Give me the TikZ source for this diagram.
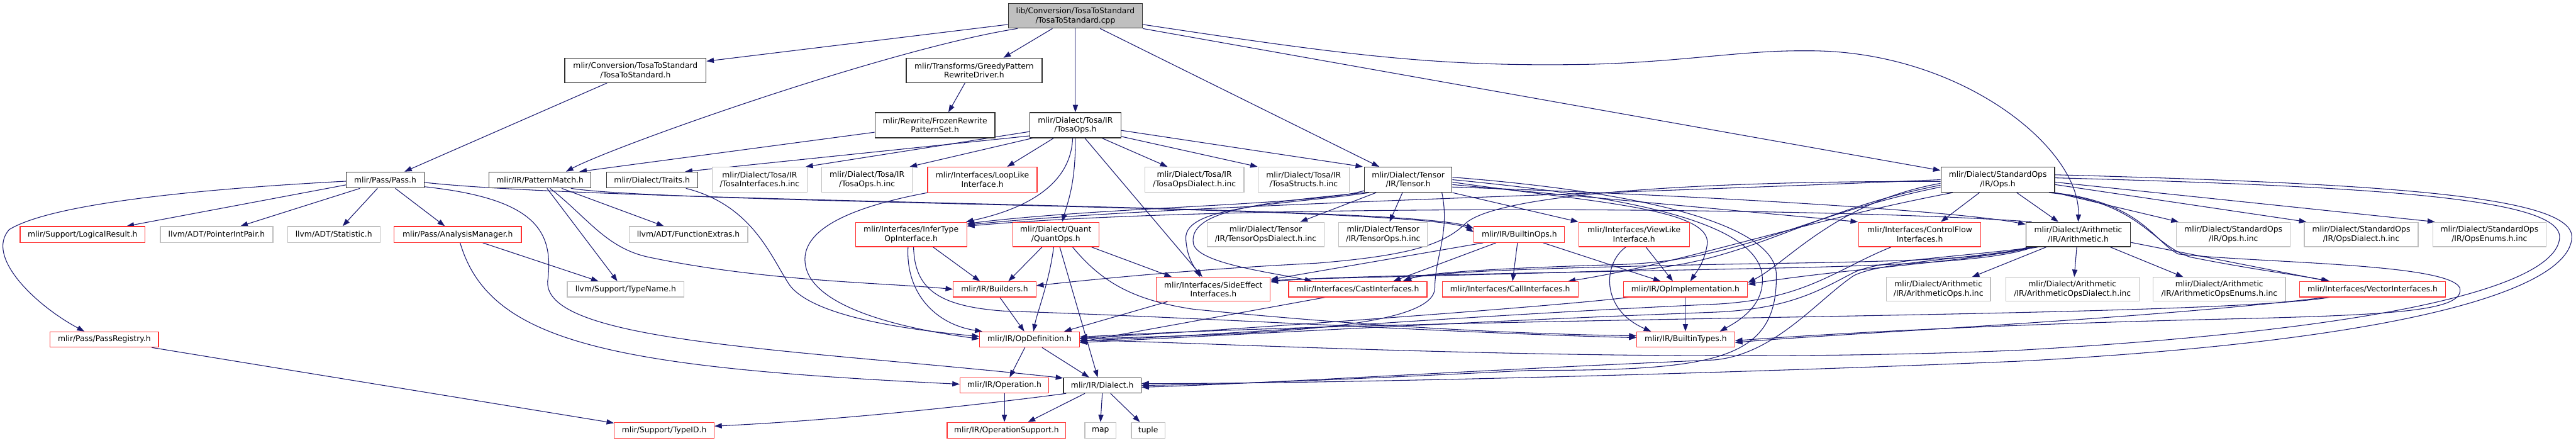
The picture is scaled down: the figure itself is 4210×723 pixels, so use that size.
\documentclass[tikz,border=0pt]{standalone}
\usepackage{fontspec}
\newfontfamily\dvs{DejaVu Sans}
\usetikzlibrary{arrows.meta}
\definecolor{edgecol}{HTML}{191970}
\definecolor{redb}{HTML}{FF3030}
\definecolor{grayb}{HTML}{BFBFBF}
\definecolor{blkb}{HTML}{303030}
\pgfdeclarelayer{bg}
\pgfsetlayers{bg,main}
\begin{document}
\begin{tikzpicture}[x=1pt,y=-1pt,
  nd/.style={draw, line width=1.3pt, inner sep=0pt, align=center, fill=white, text=black, font=\dvs\fontsize{12.7}{15}\selectfont},
  bk/.style={nd, draw=blkb},
  rd/.style={nd, draw=redb},
  gy/.style={nd, draw=grayb},
  e/.style={draw=edgecol, line width=1.1pt, -{Triangle[length=12pt,width=8.5pt]}}]
\useasboundingbox (0,0) rectangle (4210,723);
% row 1-3
\node[bk, fill=grayb, minimum width=219pt, minimum height=40pt] (top) at (1757.5,26) {lib/Conversion/TosaToStandard\\/TosaToStandard.cpp};
\node[bk, minimum width=231pt, minimum height=40pt] (convh) at (1038.5,115) {mlir/Conversion/TosaToStandard\\/TosaToStandard.h};
\node[bk, minimum width=222pt, minimum height=40pt] (greedy) at (1592,115) {mlir/Transforms/GreedyPattern\\RewriteDriver.h};
\node[bk, minimum width=196pt, minimum height=41pt] (frozen) at (1528,204.5) {mlir/Rewrite/FrozenRewrite\\PatternSet.h};
\node[bk, minimum width=149pt, minimum height=41pt] (tosaops) at (1757.5,204.5) {mlir/Dialect/Tosa/IR\\/TosaOps.h};
% row 4
\node[bk, minimum width=127pt, minimum height=26pt] (passh) at (629.5,294) {mlir/Pass/Pass.h};
\node[bk, minimum width=167pt, minimum height=26pt] (patmatch) at (882.5,294) {mlir/IR/PatternMatch.h};
\node[bk, minimum width=149pt, minimum height=26pt] (traits) at (1065.5,294) {mlir/Dialect/Traits.h};
\node[gy, minimum width=155pt, minimum height=41pt] (tosaif) at (1241.5,293.5) {mlir/Dialect/Tosa/IR\\/TosaInterfaces.h.inc};
\node[gy, minimum width=148pt, minimum height=41pt] (tosaopsinc) at (1417,293.5) {mlir/Dialect/Tosa/IR\\/TosaOps.h.inc};
\node[rd, minimum width=179pt, minimum height=41pt] (looplike) at (1605.5,293.5) {mlir/Interfaces/LoopLike\\Interface.h};
\node[gy, minimum width=162pt, minimum height=41pt] (tosadial) at (1952,293.5) {mlir/Dialect/Tosa/IR\\/TosaOpsDialect.h.inc};
\node[gy, minimum width=149pt, minimum height=41pt] (tosastruct) at (2130.5,293.5) {mlir/Dialect/Tosa/IR\\/TosaStructs.h.inc};
\node[bk, minimum width=143pt, minimum height=41pt] (tensor) at (2301.5,293.5) {mlir/Dialect/Tensor\\/IR/Tensor.h};
\node[bk, minimum width=186pt, minimum height=41pt] (stdops) at (3265,293.5) {mlir/Dialect/StandardOps\\/IR/Ops.h};
% row 5
\node[rd, minimum width=204pt, minimum height=26pt] (logical) at (135,383) {mlir/Support/LogicalResult.h};
\node[gy, minimum width=184pt, minimum height=26pt] (ptrint) at (354,383) {llvm/ADT/PointerIntPair.h};
\node[gy, minimum width=151pt, minimum height=26pt] (statistic) at (545.5,383) {llvm/ADT/Statistic.h};
\node[rd, minimum width=208pt, minimum height=26pt] (analysis) at (748,383) {mlir/Pass/AnalysisManager.h};
\node[gy, minimum width=194pt, minimum height=26pt] (funcext) at (1125,383) {llvm/ADT/FunctionExtras.h};
\node[rd, minimum width=182pt, minimum height=40pt] (infertype) at (1489,383) {mlir/Interfaces/InferType\\OpInterface.h};
\node[rd, minimum width=141pt, minimum height=40pt] (quantops) at (1725.5,383) {mlir/Dialect/Quant\\/QuantOps.h};
\node[gy, minimum width=191pt, minimum height=40pt] (tensordial) at (2068.5,383) {mlir/Dialect/Tensor\\/IR/TensorOpsDialect.h.inc};
\node[gy, minimum width=145pt, minimum height=40pt] (tensoropsinc) at (2260.5,383) {mlir/Dialect/Tensor\\/IR/TensorOps.h.inc};
\node[rd, minimum width=148pt, minimum height=26pt] (builtinops) at (2483,383) {mlir/IR/BuiltinOps.h};
\node[rd, minimum width=181pt, minimum height=40pt] (viewlike) at (2670.5,383) {mlir/Interfaces/ViewLike\\Interface.h};
\node[rd, minimum width=199pt, minimum height=40pt] (controlflow) at (3137.5,383) {mlir/Interfaces/ControlFlow\\Interfaces.h};
\node[bk, minimum width=171pt, minimum height=40pt] (arith) at (3396.5,383) {mlir/Dialect/Arithmetic\\/IR/Arithmetic.h};
\node[gy, minimum width=186pt, minimum height=40pt] (stdopsinc) at (3650,383) {mlir/Dialect/StandardOps\\/IR/Ops.h.inc};
\node[gy, minimum width=186pt, minimum height=40pt] (stdopsdial) at (3859,383) {mlir/Dialect/StandardOps\\/IR/OpsDialect.h.inc};
\node[gy, minimum width=185pt, minimum height=40pt] (stdopsenums) at (4068.5,383) {mlir/Dialect/StandardOps\\/IR/OpsEnums.h.inc};
% row 6
\node[gy, minimum width=191pt, minimum height=25pt] (typename) at (1022.5,472.5) {llvm/Support/TypeName.h};
\node[rd, minimum width=135pt, minimum height=25pt] (builders) at (1625.5,472.5) {mlir/IR/Builders.h};
\node[rd, minimum width=186pt, minimum height=39pt] (sideeffect) at (1983,472.5) {mlir/Interfaces/SideEffect\\Interfaces.h};
\node[rd, minimum width=226pt, minimum height=25pt] (castif) at (2219,472.5) {mlir/Interfaces/CastInterfaces.h};
\node[rd, minimum width=222pt, minimum height=25pt] (callif) at (2468,472.5) {mlir/Interfaces/CallInterfaces.h};
\node[rd, minimum width=203pt, minimum height=25pt] (opimpl) at (2754.5,472.5) {mlir/IR/OpImplementation.h};
\node[gy, minimum width=170pt, minimum height=39pt] (arithopsinc) at (3168,472.5) {mlir/Dialect/Arithmetic\\/IR/ArithmeticOps.h.inc};
\node[gy, minimum width=218pt, minimum height=39pt] (arithdial) at (3387,472.5) {mlir/Dialect/Arithmetic\\/IR/ArithmeticOpsDialect.h.inc};
\node[gy, minimum width=216pt, minimum height=39pt] (arithenums) at (3627,472.5) {mlir/Dialect/Arithmetic\\/IR/ArithmeticOpsEnums.h.inc};
\node[rd, minimum width=239pt, minimum height=25pt] (vectorif) at (3877.5,472.5) {mlir/Interfaces/VectorInterfaces.h};
% row 7-9
\node[rd, minimum width=177pt, minimum height=25pt] (passreg) at (170.5,554.5) {mlir/Pass/PassRegistry.h};
\node[rd, minimum width=163pt, minimum height=25pt] (opdef) at (1682.5,554.5) {mlir/IR/OpDefinition.h};
\node[rd, minimum width=160pt, minimum height=25pt] (builtintypes) at (2755,554.5) {mlir/IR/BuiltinTypes.h};
\node[rd, minimum width=145pt, minimum height=25pt] (operation) at (1641.5,629.5) {mlir/IR/Operation.h};
\node[bk, minimum width=127pt, minimum height=25pt] (dialect) at (1801.5,629.5) {mlir/IR/Dialect.h};
\node[rd, minimum width=163pt, minimum height=26pt] (typeid) at (1085.5,703) {mlir/Support/TypeID.h};
\node[rd, minimum width=194pt, minimum height=26pt] (opsupport) at (1645,703) {mlir/IR/OperationSupport.h};
\node[gy, minimum width=51pt, minimum height=26pt] (map) at (1798.5,703) {map};
\node[gy, minimum width=55pt, minimum height=26pt] (tuple) at (1876.5,703) {tuple};

\begin{pgfonlayer}{bg}
% top
\draw[e] ([yshift=-14pt]top.west) -- ([yshift=15pt]convh.east);
\draw[e] ([xshift=-94.5pt]top.south) .. controls (1450,80) and (1000,240) .. ([xshift=42.5pt]patmatch.north);
\draw[e] ([xshift=-37.5pt]top.south) -- ([xshift=48pt]greedy.north);
\draw[e] (top.south) -- (tosaops.north);
\draw[e] ([xshift=40.5pt]top.south) -- ([xshift=-47.5pt]tensor.north);
\draw[e] (top.south east) -- ([yshift=-6pt]stdops.north west);
\draw[e] ([yshift=-14pt]top.east) .. controls (2200,90) and (2350,110) .. (2600,105) .. controls (2750,101) and (2850,82) .. (2950,83) .. controls (3200,80) and (3400,240) .. (arith.north);
% upper
\draw[e] ([xshift=-46.5pt]convh.south) -- ([xshift=31.5pt]passh.north);
\draw[e] ([xshift=-15pt]greedy.south) -- ([xshift=22pt]frozen.north);
\draw[e] ([yshift=-11.5pt]frozen.west) -- ([xshift=64.5pt]patmatch.north);
% tosaops
\draw[e] ([yshift=-10.5pt]tosaops.west) -- ([xshift=-3pt]tosaif.north east);
\draw[e] ([yshift=-17.5pt]tosaops.west) -- ([xshift=54pt]traits.north);
\draw[e] ([xshift=5pt]tosaops.south west) -- ([xshift=-5pt]tosaopsinc.north east);
\draw[e] ([xshift=-35.5pt]tosaops.south) -- ([xshift=40.5pt]looplike.north);
\draw[e] ([xshift=-4.5pt]tosaops.south) .. controls (1750,310) and (1660,345) .. ([xshift=-2pt]infertype.north east);
\draw[e] (tosaops.south) .. controls (1758,300) and (1745,330) .. ([xshift=10.5pt]quantops.north);
\draw[e] ([xshift=15.5pt]tosaops.south) -- ([xshift=-18pt]sideeffect.north);
\draw[e] ([xshift=43.5pt]tosaops.south) -- ([xshift=-44pt]tosadial.north);
\draw[e] ([yshift=-18.5pt]tosaops.east) -- (tosastruct.north west);
\draw[e] ([yshift=-8.5pt]tosaops.east) -- ([xshift=-2pt]tensor.north west);
% pass
\draw[e] ([yshift=-8pt]passh.west) -- ([xshift=72pt]logical.north);
\draw[e] ([xshift=23pt]passh.south west) -- ([xshift=39pt]ptrint.north);
\draw[e] ([xshift=-12.5pt]passh.south) -- ([xshift=14.5pt]statistic.north);
\draw[e] ([xshift=16.5pt]passh.south) -- ([xshift=-21pt]analysis.north);
\draw[e] ([yshift=-2pt]passh.west) .. controls (300,310) and (80,335) .. (15,375) .. controls (-25,420) and (60,500) .. ([xshift=-32.5pt]passreg.north);
\draw[e] ([yshift=-11pt]passh.east) .. controls (880,325) and (905,380) .. (895,460) .. controls (890,560) and (1300,570) .. ([yshift=12pt]dialect.west);
\draw[e] ([yshift=-4pt]passh.east) .. controls (1000,332) and (2300,335) .. ([yshift=10pt]builtinops.west);
% patternmatch
\draw[e] ([xshift=50.5pt]patmatch.south) .. controls (1100,334) and (2340,336) .. ([yshift=4pt]builtinops.west);
\draw[e] ([xshift=35.5pt]patmatch.south) -- ([xshift=-40pt]funcext.north);
\draw[e] ([xshift=11.5pt]patmatch.south) -- ([xshift=-13.5pt]typename.north);
\draw[e] ([xshift=16.5pt]patmatch.south) .. controls (960,355) and (990,405) .. (1060,420) .. controls (1250,460) and (1450,462) .. (builders.west);
% analysis
\draw[e] ([xshift=41pt]analysis.south) -- ([xshift=-44.5pt]typename.north);
\draw[e] ([xshift=4pt]analysis.south) .. controls (800,560) and (1000,600) .. ([yshift=2pt]operation.west);
% traits, looplike, infertype
\draw[e] ([xshift=55.5pt]traits.south) .. controls (1230,335) and (1260,420) .. (1290,465) .. controls (1330,520) and (1500,540) .. ([yshift=5pt]opdef.west);
\draw[e] ([xshift=1pt]looplike.south west) .. controls (1380,340) and (1300,380) .. (1318,440) .. controls (1340,510) and (1500,540) .. ([yshift=1pt]opdef.west);
\draw[e] ([xshift=-5pt]infertype.south) .. controls (1480,480) and (1530,530) .. ([xshift=5pt]opdef.north west);
\draw[e] ([xshift=36pt]infertype.south) -- ([xshift=-24pt]builders.north);
\draw[e] ([xshift=4pt]infertype.south) .. controls (1495,470) and (1530,500) .. (1640,508) .. controls (2000,520) and (2400,545) .. ([yshift=3pt]builtintypes.west);
% quantops
\draw[e] ([xshift=-22.5pt]quantops.south) -- ([xshift=22.5pt]builders.north);
\draw[e] ([xshift=-3.5pt]quantops.south) .. controls (1715,460) and (1695,510) .. ([xshift=6.5pt]opdef.north);
\draw[e] ([xshift=6.5pt]quantops.south) -- ([xshift=-7.5pt]dialect.north);
\draw[e] ([xshift=27.5pt]quantops.south) .. controls (1800,460) and (1850,490) .. (1950,505) .. controls (2200,530) and (2450,545) .. ([yshift=6pt]builtintypes.west);
\draw[e] ([xshift=58.5pt]quantops.south) -- ([xshift=-68pt]sideeffect.north);
% lower core
\draw[e] ([xshift=-75pt]sideeffect.south) -- ([xshift=56.5pt]opdef.north);
\draw[e] ([xshift=8.5pt]builders.south) -- ([xshift=-8.5pt]opdef.north);
\draw[e] ([xshift=-7.5pt]opdef.south) -- ([xshift=8.5pt]operation.north);
\draw[e] ([xshift=20.5pt]opdef.south) -- ([xshift=-21.5pt]dialect.north);
\draw[e] (operation.south) -- (operation.south |- opsupport.north);
\draw[e] ([xshift=-28.5pt]dialect.south) -- ([xshift=35pt]opsupport.north);
\draw[e] (dialect.south) -- (map.north);
\draw[e] ([xshift=13.5pt]dialect.south) -- ([xshift=-13.5pt]tuple.north);
\draw[e] ([xshift=5pt]dialect.south west) .. controls (1650,655) and (1400,685) .. ([yshift=7pt]typeid.east);
\draw[e] ([xshift=77.5pt]passreg.south) -- ([yshift=12pt]typeid.west);
% tensor
\draw[e] ([xshift=-52.5pt]tensor.south) -- ([xshift=56.5pt]tensordial.north);
\draw[e] ([xshift=-9.5pt]tensor.south) -- ([xshift=10.5pt]tensoropsinc.north);
\draw[e] (tensor.south east) -- (viewlike.north west);
\draw[e] ([yshift=-8pt]tensor.east) -- ([xshift=-1pt]controlflow.north west);
\draw[e] ([yshift=-12pt]tensor.east) .. controls (2800,320) and (3200,345) .. ([yshift=-4pt]arith.north west);
\draw[e] ([yshift=-18pt]tensor.west) .. controls (2150,335) and (1800,338) .. ([yshift=-3pt]infertype.north east);
\draw[e] ([xshift=8pt]tensor.south west) .. controls (2100,335) and (1935,335) .. (1938,390) .. controls (1940,425) and (1955,440) .. ([xshift=-22pt]sideeffect.north);
\draw[e] (tensor.south west) .. controls (2080,330) and (1945,340) .. (1950,395) .. controls (1950,430) and (2080,445) .. ([xshift=39pt]castif.north west);
\draw[e] ([xshift=55pt]tensor.south) .. controls (2370,380) and (2345,420) .. (2345,470) .. controls (2345,525) and (2150,540) .. (1950,548) .. controls (1850,551) and (1800,553) .. ([yshift=1pt]opdef.east);
\draw[e] ([yshift=-4pt]tensor.east) .. controls (2600,330) and (2800,340) .. (2790,400) .. controls (2785,430) and (2772,445) .. ([xshift=8pt]opimpl.north);
\draw[e] (tensor.east) .. controls (2650,320) and (2870,360) .. (2880,450) .. controls (2885,500) and (2840,525) .. ([xshift=-25pt]builtintypes.north east);
\draw[e] ([yshift=4pt]tensor.east) .. controls (2700,315) and (2905,370) .. (2903,450) .. controls (2905,590) and (2800,605) .. (2500,605) .. controls (2200,620) and (2000,628) .. (dialect.east);
% standard ops
\draw[e] ([xshift=31pt]stdops.south) -- ([xshift=-32.5pt]arith.north);
\draw[e] ([xshift=-30pt]stdops.south) -- ([xshift=34.5pt]controlflow.north);
\draw[e] (stdops.south east) -- ([xshift=4pt]stdopsinc.north west);
\draw[e] ([yshift=-8pt]stdops.east) -- ([xshift=4pt]stdopsdial.north west);
\draw[e] ([yshift=-4pt]stdops.east) -- ([xshift=4pt]stdopsenums.north west);
\draw[e] ([xshift=-10pt]stdops.south east) .. controls (3500,330) and (3515,400) .. (3580,420) .. controls (3680,440) and (3760,450) .. ([xshift=-70pt]vectorif.north);
\draw[e] ([xshift=-4pt]stdops.south east) .. controls (3500,330) and (3520,395) .. (3560,415) .. controls (3700,430) and (4000,430) .. (4020,470) .. controls (4030,510) and (3900,515) .. (3600,522) .. controls (3200,532) and (2950,548) .. ([yshift=-2pt]builtintypes.east);
\draw[e] ([yshift=8pt]stdops.east) .. controls (3900,300) and (4212,320) .. (4203,390) .. controls (4195,470) and (3950,555) .. (3300,590) .. controls (2700,615) and (2100,627) .. ([yshift=3pt]dialect.east);
\draw[e] ([yshift=3pt]stdops.east) .. controls (3900,305) and (4192,325) .. (4183,390) .. controls (4175,460) and (3950,535) .. (3300,572) .. controls (2700,598) and (2000,560) .. ([yshift=-1pt]opdef.east);
\draw[e] ([yshift=-6pt]stdops.west) .. controls (3000,330) and (2920,430) .. ([yshift=11pt]opimpl.east);
\draw[e] ([xshift=20pt]stdops.south west) .. controls (2950,360) and (2750,430) .. ([xshift=-17pt]callif.north east);
\draw[e] ([yshift=-12pt]stdops.west) .. controls (2950,350) and (2850,425) .. (2650,432) .. controls (2450,438) and (2330,445) .. ([xshift=-40pt]castif.north east);
\draw[e] ([yshift=-9pt]stdops.west) .. controls (2950,345) and (2850,436) .. (2650,442) .. controls (2400,450) and (2150,454) .. ([yshift=14pt]sideeffect.east);
\draw[e] ([yshift=-3pt]stdops.west) .. controls (2800,295) and (2450,315) .. (2395,365) .. controls (2360,400) and (2300,418) .. (2150,430) .. controls (1950,440) and (1800,455) .. ([yshift=6pt]builders.east);
\draw[e] (stdops.west) .. controls (2600,318) and (1900,335) .. ([yshift=-5pt]infertype.north east);
% arithmetic
\draw[e] ([xshift=-52.5pt]arith.south) -- ([xshift=55pt]arithopsinc.north);
\draw[e] ([xshift=-2.5pt]arith.south) -- ([xshift=3pt]arithdial.north);
\draw[e] ([xshift=52.5pt]arith.south) -- ([xshift=-59pt]arithenums.north);
\draw[e] ([yshift=-13pt]arith.east) -- ([xshift=-72pt]vectorif.north);
\draw[e] ([xshift=10pt]arith.north west) .. controls (3000,338) and (2000,332) .. ([yshift=-7pt]infertype.north east);
\draw[e] ([xshift=4pt]arith.south west) .. controls (3250,425) and (3000,440) .. ([yshift=8pt]opimpl.east);
\draw[e] ([xshift=8pt]arith.south west) .. controls (3250,428) and (3000,428) .. (2800,432) .. controls (2500,438) and (2330,445) .. ([xshift=-38pt]castif.north east);
\draw[e] ([xshift=12pt]arith.south west) .. controls (3250,432) and (3000,436) .. (2800,440) .. controls (2400,448) and (2150,452) .. ([yshift=12pt]sideeffect.east);
\draw[e] ([xshift=16pt]arith.south west) .. controls (3200,420) and (3070,425) .. (3030,445) .. controls (2980,470) and (2930,505) .. (2800,510) .. controls (2400,525) and (2000,548) .. ([yshift=-5pt]opdef.east);
\draw[e] ([xshift=20pt]arith.south west) .. controls (3200,425) and (3075,428) .. (3030,450) .. controls (2970,490) and (2900,580) .. (2800,588) .. controls (2400,605) and (2100,625) .. ([yshift=-3pt]dialect.east);
% builtin ops, viewlike
\draw[e] ([xshift=-38pt]builtinops.south) -- ([xshift=58pt]castif.north);
\draw[e] ([xshift=-3pt]builtinops.south) -- ([xshift=4pt]callif.north);
\draw[e] ([xshift=-59pt]builtinops.south) -- ([yshift=16pt]sideeffect.east);
\draw[e] ([xshift=39pt]builtinops.south) -- ([xshift=-40.5pt]opimpl.north);
\draw[e] ([xshift=-13.5pt]viewlike.south) .. controls (2620,430) and (2615,505) .. ([xshift=24pt]builtintypes.north west);
\draw[e] ([xshift=19.5pt]viewlike.south) -- ([xshift=-20.5pt]opimpl.north);
% others
\draw[e] ([xshift=-47pt]controlflow.south) .. controls (3000,440) and (2950,490) .. (2800,497) .. controls (2400,515) and (2000,548) .. ([yshift=-2pt]opdef.east);
\draw[e] ([xshift=-53pt]castif.south) -- ([yshift=-4pt]opdef.east);
\draw[e] ([xshift=9pt]opimpl.south west) .. controls (2550,500) and (2000,540) .. ([yshift=2pt]opdef.east);
\draw[e] (opimpl.south) -- (opimpl.south |- builtintypes.north);
\draw[e] ([xshift=-70pt]vectorif.south) .. controls (3600,520) and (2400,515) .. ([yshift=4pt]opdef.east);
\draw[e] ([xshift=-76pt]vectorif.south) .. controls (3500,522) and (3000,545) .. ([yshift=-5pt]builtintypes.east);
\end{pgfonlayer}
\end{tikzpicture}
\end{document}
